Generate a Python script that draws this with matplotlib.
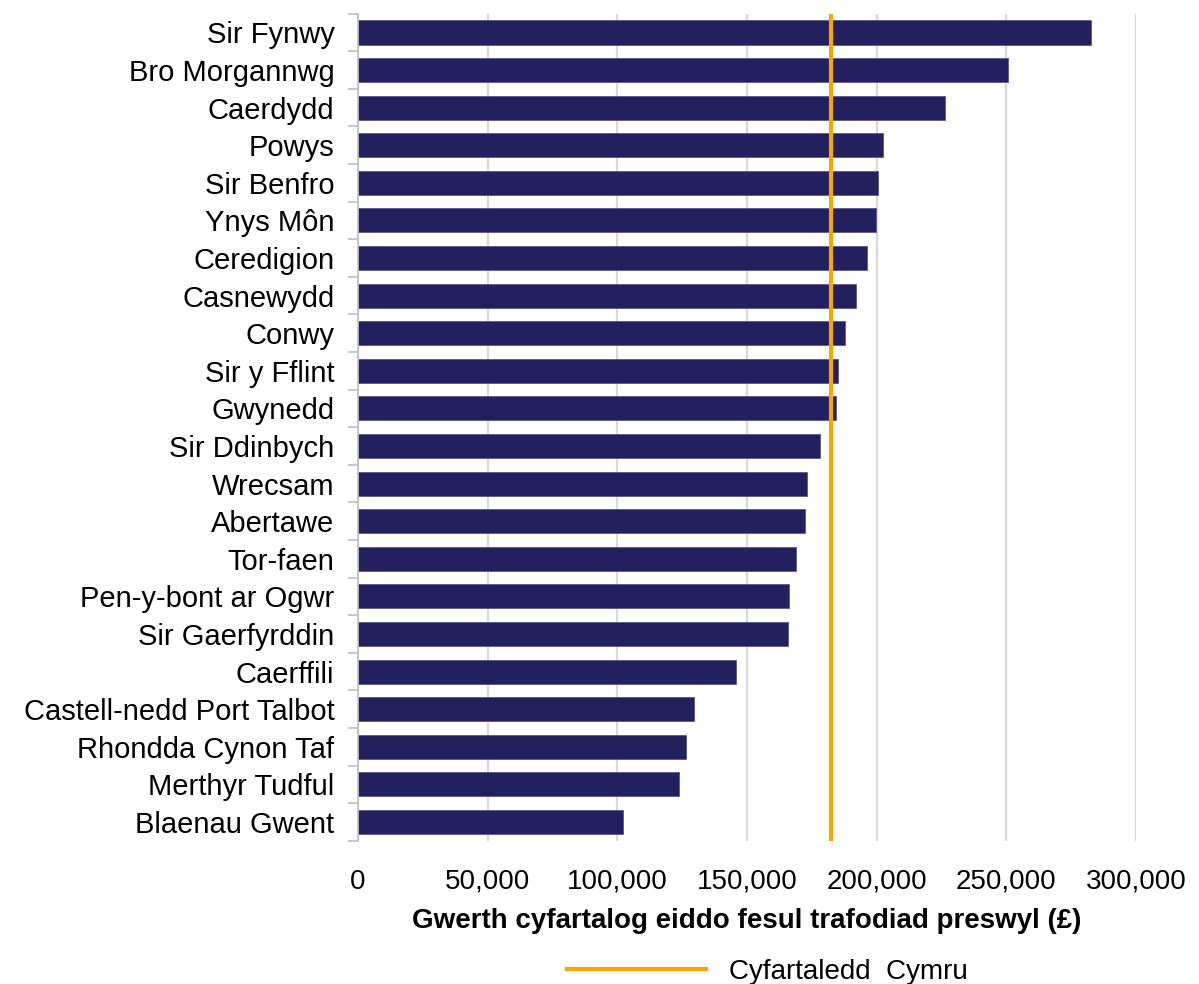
import matplotlib
matplotlib.use('Agg')
import matplotlib.pyplot as plt
from matplotlib.ticker import FuncFormatter

areas = ['Sir Fynwy', 'Bro Morgannwg', 'Caerdydd', 'Powys', 'Sir Benfro',
         'Ynys Môn', 'Ceredigion', 'Casnewydd', 'Conwy', 'Sir y Fflint',
         'Gwynedd', 'Sir Ddinbych', 'Wrecsam', 'Abertawe', 'Tor-faen',
         'Pen-y-bont ar Ogwr', 'Sir Gaerfyrddin', 'Caerffili',
         'Castell-nedd Port Talbot', 'Rhondda Cynon Taf', 'Merthyr Tudful',
         'Blaenau Gwent']
avg_price = [282600, 250700, 226500, 202400, 200600, 199900, 196300, 192000,
             187600, 185000, 184200, 178100, 173000, 172200, 168700, 166000,
             165800, 145600, 129700, 126600, 123700, 102200]
wales_avg = 182400

plt.rcParams['font.family'] = ['Liberation Sans', 'DejaVu Sans']

fig = plt.figure(figsize=(11.99, 9.84), dpi=100)
ax = fig.add_axes([0.2986, 0.1455, 0.6489, 0.8406])

ypos = list(range(len(areas)))
ax.barh(ypos, avg_price, height=0.64, color='#22205f', edgecolor='#5a5888',
        linewidth=0.6, zorder=2)
ax.set_ylim(len(areas) - 0.5, -0.5)
ax.set_xlim(0, 300000)

line = ax.axvline(wales_avg, color='#f5a800', linewidth=3, zorder=3,
                  label='Cyfartaledd  Cymru')

ax.set_yticks(ypos)
ax.set_yticklabels(areas)
ax.set_yticks([y + 0.5 for y in range(-1, len(areas))], minor=True)
ax.tick_params(axis='y', which='major', length=0, pad=17, labelsize=21)
ax.tick_params(axis='y', which='minor', length=7, color='#bfbfbf', width=1.2)

ax.set_xticks(range(0, 300001, 50000))
ax.xaxis.set_major_formatter(FuncFormatter(lambda v, p: f'{int(v):,}'))
ax.tick_params(axis='x', length=0, pad=20, labelsize=20)
ax.grid(axis='x', color='#d9d9d9', linewidth=1.6, zorder=0)

for s in ['top', 'right', 'bottom']:
    ax.spines[s].set_visible(False)
ax.spines['left'].set_color('#bfbfbf')
ax.spines['left'].set_linewidth(1.2)

ax.set_xlabel('Gwerth cyfartalog eiddo fesul trafodiad preswyl (£)',
              fontsize=20, fontweight='bold', labelpad=10)

fig.legend(handles=[line], loc='lower center', bbox_to_anchor=(0.64, -0.026),
           frameon=False, fontsize=20, handlelength=5.0, handletextpad=0.8)

fig.savefig('out.png', dpi=100)
